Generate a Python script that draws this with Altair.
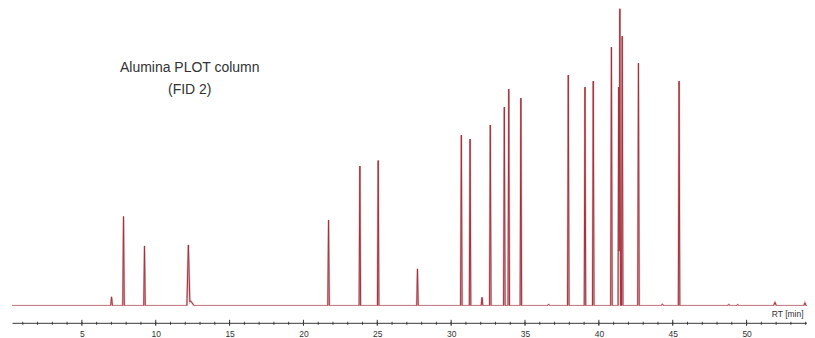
import altair as alt
import pandas as pd

# Retention times (min), peak heights (signal units) and half widths (min)
peak_rt = [7.01, 7.82, 9.24, 12.21, 12.36, 21.70, 23.82, 25.06, 27.72, 30.69, 31.28,
           32.09, 32.65, 33.60, 33.90, 34.72, 36.60, 37.93, 39.06, 39.62, 40.85,
           41.34, 41.42, 41.58, 42.68, 44.30, 45.43, 48.80, 49.40, 51.92, 53.95]
peak_height = [9, 89.5, 60, 59, 5, 86, 140, 145.5, 37, 171, 167,
               8.5, 181, 199, 217, 208, 1.2, 231, 219, 225, 259,
               219, 297.5, 270, 243, 1.5, 225, 1.2, 1.0, 3.5, 3]
peak_width = [0.06, 0.05, 0.05, 0.10, 0.25, 0.05, 0.05, 0.05, 0.05, 0.05, 0.05,
              0.06, 0.05, 0.05, 0.05, 0.05, 0.12, 0.05, 0.05, 0.05, 0.05,
              0.04, 0.05, 0.05, 0.05, 0.12, 0.05, 0.12, 0.12, 0.10, 0.08]

rt_start, rt_end = 0.27, 54.09
major_ticks = [5, 10, 15, 20, 25, 30, 35, 40, 45, 50]
minor_ticks = list(range(1, 55))

title_lines = ["Alumina PLOT column", "(FID 2)"]


def signal(x):
    s = 0.0
    for t, h, w in zip(peak_rt, peak_height, peak_width):
        d = abs(x - t)
        if d < w:
            s += h * (1 - d / w)
    return s


pts = {rt_start, rt_end}
for t, w in zip(peak_rt, peak_width):
    pts.update([t - w, t, t + w])
pts = sorted(p for p in pts if rt_start <= p <= rt_end)
trace = pd.DataFrame({"t": pts, "y": [signal(p) for p in pts]})

xscale = alt.Scale(domain=[rt_start, rt_end], nice=False, zero=False)
yscale = alt.Scale(domain=[0, 298], nice=False)

x_axis = alt.Axis(
    orient="bottom", values=major_ticks, ticks=False, grid=False, domain=True,
    domainColor="#3a3a3a", domainWidth=1, offset=17,
    labelFont="Liberation Sans", labelFontSize=8.5, labelColor="#333333",
    labelPadding=7, labelAngle=0, format="d",
    title="RT [min]", titleFont="Liberation Sans", titleFontSize=8.5,
    titleFontWeight="normal", titleColor="#333333", titleAlign="right",
    titleX=792, titleY=-6, titleBaseline="alphabetic",
)
X = alt.X("t:Q", scale=xscale, axis=x_axis)
Y = alt.Y("y:Q", scale=yscale, axis=None)

halo = alt.Chart(trace).mark_line(color="#e0c4c6", strokeWidth=2.2, clip=True).encode(x=X, y=Y)
core = alt.Chart(trace).mark_line(color="#a5303c", strokeWidth=1.0, clip=True).encode(x=X, y=Y)

minor = alt.Chart(pd.DataFrame({"t": minor_ticks})).mark_rule(color="#3a3a3a", strokeWidth=1).encode(
    x=X, y=alt.value(314), y2=alt.value(317),
)
major = alt.Chart(pd.DataFrame({"t": major_ticks})).mark_rule(color="#3a3a3a", strokeWidth=1).encode(
    x=X, y=alt.value(312), y2=alt.value(318),
)

label = alt.Chart(alt.Data(values=[{}])).mark_text(
    align="center", baseline="alphabetic", font="Liberation Sans", fontSize=14,
    lineHeight=22, color="#333333",
).encode(x=alt.value(178), y=alt.value(64), text=alt.value(title_lines))

chart = alt.layer(halo, core, minor, major, label).properties(
    width=796, height=298,
    padding={"left": 4, "top": 0, "right": 0, "bottom": 0},
    background="white",
).configure_view(stroke=None)

chart.save("out.html", embed_options={"renderer": "svg", "actions": False})
